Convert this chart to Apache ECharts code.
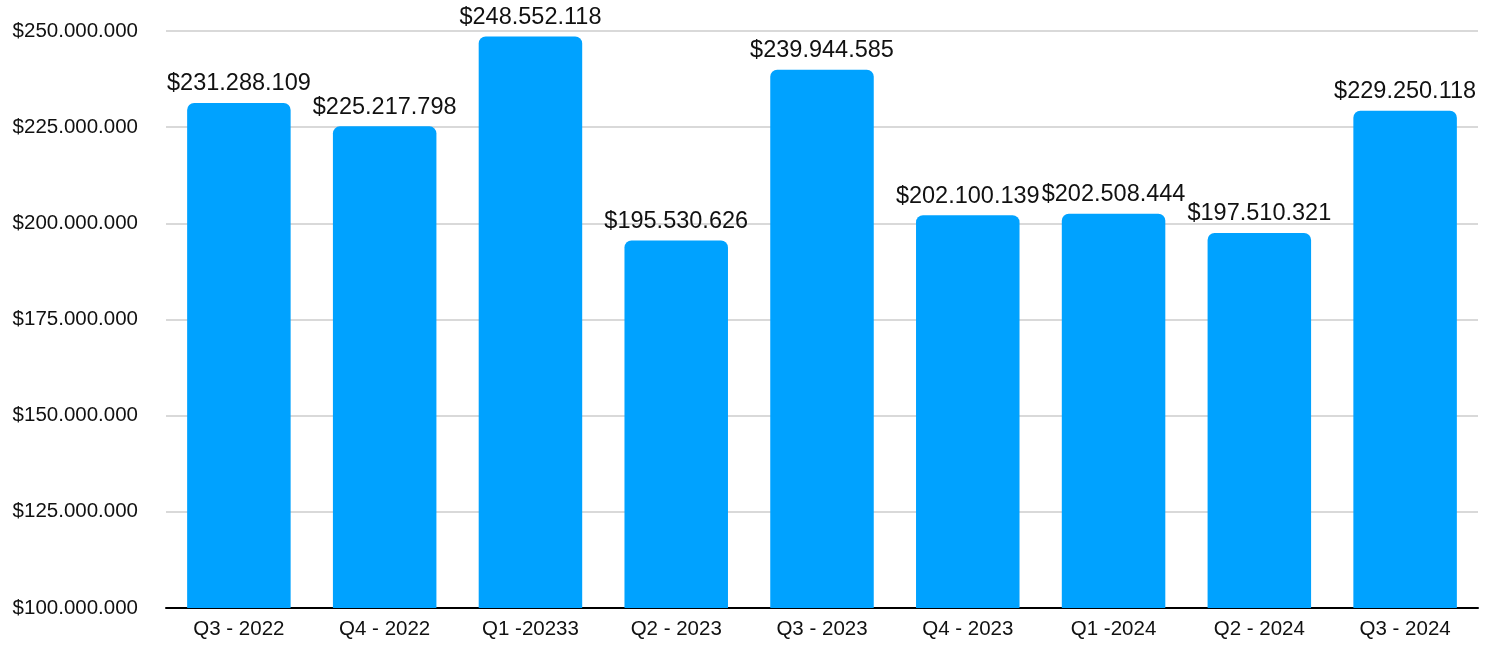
<!DOCTYPE html>
<html>
<head>
<meta charset="utf-8">
<script src="https://cdn.jsdelivr.net/npm/echarts@6/dist/echarts.min.js"></script>
<style>
    html, body { margin: 0; padding: 0; background: #fff; }
    #chart { width: 1495px; height: 646px; }
</style>
</head>
<body>
<div id="chart"></div>
<script>
const quarters = ['Q3 - 2022', 'Q4 - 2022', 'Q1 -20233', 'Q2 - 2023', 'Q3 - 2023', 'Q4 - 2023', 'Q1 -2024', 'Q2 - 2024', 'Q3 - 2024'];
const revenue = [231288109, 225217798, 248552118, 195530626, 239944585, 202100139, 202508444, 197510321, 229250118];

function money(v) {
    return '$' + String(Math.round(v)).replace(/\B(?=(\d{3})+(?!\d))/g, '.');
}

echarts.init(document.getElementById('chart')).setOption({
    animation: false,
    textStyle: { fontFamily: 'Liberation Sans, Arial, sans-serif' },
    grid: { left: 166, right: 17, top: 31, bottom: 38 },
    xAxis: {
        type: 'category',
        data: quarters,
        axisLine: { lineStyle: { color: '#000', width: 2 } },
        axisTick: { show: false },
        axisLabel: { color: '#111', fontSize: 20.5, margin: 11 }
    },
    yAxis: {
        type: 'value',
        min: 100000000,
        max: 250000000,
        interval: 25000000,
        axisLine: { show: false },
        axisTick: { show: false },
        splitLine: { lineStyle: { color: '#cccccc', width: 1.5 } },
        axisLabel: { color: '#111', fontSize: 20.5, margin: 28, formatter: money }
    },
    series: [{
        type: 'bar',
        data: revenue,
        barWidth: '71%',
        itemStyle: { color: '#00a2ff', borderRadius: [7, 7, 0, 0] },
        label: {
            show: true,
            position: 'top',
            distance: 7,
            color: '#111',
            fontSize: 23.5,
            formatter: p => money(p.value)
        }
    }]
});
</script>
</body>
</html>
